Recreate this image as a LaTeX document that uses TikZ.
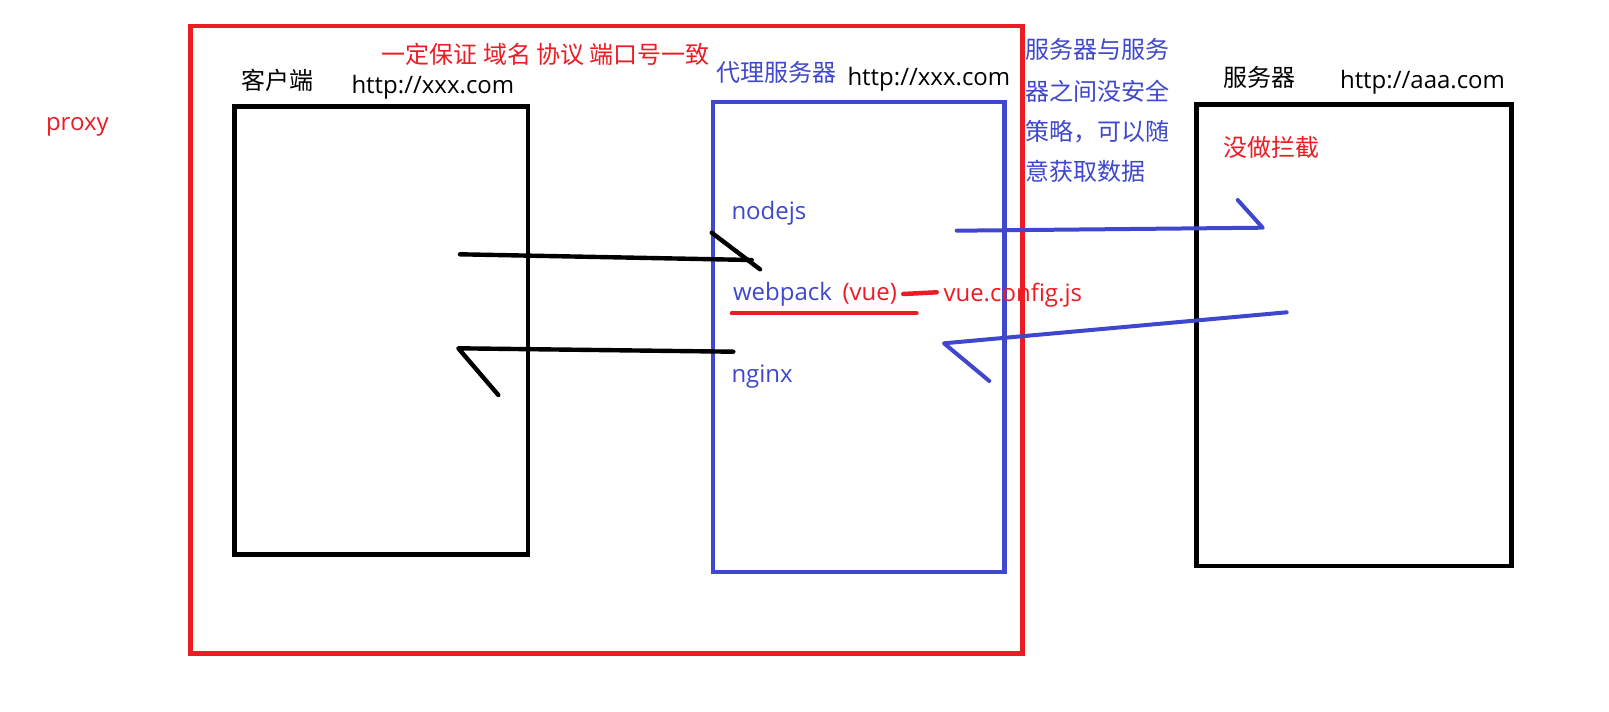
\documentclass[tikz,border=0pt]{standalone}
\usepackage{fontspec}
\setmainfont{Open Sans}
\newfontfamily\cjk{Noto Sans CJK SC}
\definecolor{pred}{HTML}{ED1C24}
\definecolor{pblue}{HTML}{3F48CC}
\begin{document}
\begin{tikzpicture}[x=1pt,y=-1pt,
  txt/.style={anchor=base west, inner sep=0pt, outer sep=0pt, font=\fontsize{24}{28}\selectfont},
  ctxt/.style={txt, font=\fontsize{24}{28}\selectfont\cjk},
  box/.style={draw, line width=4.5pt, inner sep=0pt, outer sep=0pt, anchor=north west},
  stroke/.style={line width=4.4pt, line cap=round, line join=round}]
\useasboundingbox[fill=white] (0,0) rectangle (1609,712);

% boxes
\node[box, pred, minimum width=831.8pt, minimum height=627.3pt] (outer) at (190.5,26) {};
\node[box, black, minimum width=293.5pt, minimum height=447.8pt] (client) at (234.5,106.5) {};
\node[box, pblue, minimum width=291.4pt, minimum height=470pt] (proxysrv) at (713,102) {};
\node[box, black, minimum width=315pt, minimum height=461.3pt] (server) at (1196.7,104.7) {};

% texts
\node[txt, pred] (proxy) at (46,130) {proxy};
\node[ctxt, pred] (rule) at (381.7,63) {一定保证 域名 协议 端口号一致};
\node[ctxt, black] (clientlbl) at (241,89.5) {客户端};
\node[txt, black] (clienturl) at (351.5,93.3) {http://xxx.com};
\node[ctxt, pblue] (proxylbl) at (716.6,81.5) {代理服务器};
\node[txt, black] (proxyurl) at (847.5,85.5) {http://xxx.com};
\node[ctxt, pblue] (note1) at (1025,58) {服务器与服务};
\node[ctxt, pblue] (note2) at (1025,100) {器之间没安全};
\node[ctxt, pblue] (note3) at (1025,140) {策略，可以随};
\node[ctxt, pblue] (note4) at (1025,180) {意获取数据};
\node[ctxt, black] (serverlbl) at (1223,86.5) {服务器};
\node[txt, black] (serverurl) at (1340,88.3) {http://aaa.com};
\node[ctxt, pred] (nointercept) at (1223,156.5) {没做拦截};
\node[txt, pblue] (nodejs) at (731.5,219.3) {nodejs};
\node[txt, pblue] (webpack) at (733,300.7) {webpack};
\node[txt, pred] (vue) at (842.5,300.7) {(vue)};
\node[txt, pred] (vueconfig) at (943.5,301.7) {vue.config.js};
\node[txt, pblue] (nginx) at (731.5,382) {nginx};

% underline and dash
\coordinate (ul1) at (731.7,313.3);
\coordinate (ul2) at (916.7,313.3);
\draw[stroke, pred, line width=4pt] (ul1) -- (ul2);
\coordinate (d1) at (903.3,294);
\coordinate (d2) at (936.7,292.3);
\draw[stroke, pred, line width=4.5pt] (d1) -- (d2);

% black arrow client -> proxy
\coordinate (a1s) at (460,254.3);
\coordinate (a1e) at (751.7,260);
\coordinate (a1h1) at (711.7,232.7);
\coordinate (a1h2) at (760,269.3);
\draw[stroke, black] (a1s) -- (a1e);
\draw[stroke, black] (a1h1) -- (a1h2);

% black arrow proxy -> client
\coordinate (a2s) at (733.3,351.7);
\coordinate (a2e) at (458.3,348.3);
\coordinate (a2h) at (498.3,395);
\draw[stroke, black] (a2s) -- (a2e) -- (a2h);

% blue arrow proxy -> server
\coordinate (b1s) at (956.7,230.7);
\coordinate (b1e) at (1262.7,227.7);
\coordinate (b1h) at (1237.7,200);
\draw[stroke, pblue, line width=4pt] (b1s) -- (b1e) -- (b1h);

% blue arrow server -> proxy
\coordinate (b2s) at (1286.7,312.3);
\coordinate (b2e) at (944,343.3);
\coordinate (b2h) at (989.3,381);
\draw[stroke, pblue, line width=4pt] (b2s) -- (b2e) -- (b2h);
\end{tikzpicture}
\end{document}
